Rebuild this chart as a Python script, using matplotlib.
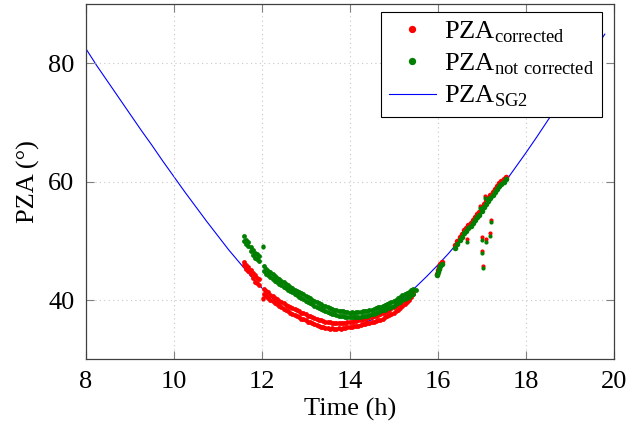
import matplotlib
matplotlib.use("Agg")
import matplotlib.pyplot as plt
import numpy as np

plt.rcParams['font.family'] = ['Liberation Serif', 'DejaVu Serif']
plt.rcParams['mathtext.fontset'] = 'custom'
plt.rcParams['mathtext.rm'] = 'Liberation Serif'

# SG2 reference curve
t_sg2 = [8.00, 8.25, 8.50, 8.75, 9.00, 9.25, 9.50, 9.75, 10.00, 10.25, 10.50, 10.75,
         11.00, 11.25, 11.50, 11.75, 12.00, 12.25, 12.50, 12.75, 13.00, 13.25, 13.50,
         13.75, 14.00, 14.25, 14.50, 14.75, 15.00, 15.25, 15.50, 15.75, 16.00, 16.25,
         16.50, 16.75, 17.00, 17.25, 17.50, 17.75, 18.00, 18.25, 18.50, 18.75, 19.00,
         19.25, 19.50, 19.80]
pza_sg2 = [82.5, 79.6, 76.9, 74.2, 71.5, 68.8, 66.2, 63.5, 60.9, 58.3, 55.8, 53.3,
           50.9, 48.5, 46.3, 44.1, 42.1, 40.3, 38.7, 37.4, 36.4, 35.7, 35.3,
           35.2, 35.4, 35.9, 36.7, 37.8, 39.1, 40.6, 42.2, 44.0, 45.9, 47.9,
           50.1, 52.4, 54.8, 57.2, 59.6, 62.2, 64.8, 67.5, 70.3, 73.0, 75.8,
           78.6, 81.5, 84.9]

# midday segment (upper and lower edge of each point band)
t_am = [11.60, 11.65, 11.70, 11.75, 11.80, 11.85, 11.90, 11.95, 12.05, 12.10, 12.15,
        12.20, 12.25, 12.30, 12.35, 12.40, 12.45, 12.50, 12.55, 12.60, 12.65, 12.70,
        12.75, 12.80, 12.85, 12.90, 12.95, 13.00, 13.05, 13.10, 13.15, 13.20, 13.25,
        13.30, 13.35, 13.40, 13.45, 13.50, 13.55, 13.60, 13.65, 13.70, 13.75, 13.80,
        13.85, 13.90, 13.95, 14.00, 14.05, 14.10, 14.15, 14.20, 14.25, 14.30, 14.35,
        14.40, 14.45, 14.50, 14.55, 14.60, 14.65, 14.70, 14.75, 14.80, 14.85, 14.90,
        14.95, 15.00, 15.05, 15.10, 15.15, 15.20, 15.25, 15.30, 15.35, 15.40, 15.45]
corr_am_hi = [46.5, 46.0, 45.6, 45.1, 44.6, 44.2, 43.8, 43.5, 41.9, 41.6, 41.3,
              40.9, 40.7, 40.4, 40.2, 39.9, 39.7, 39.5, 39.2, 39.0, 38.9, 38.7,
              38.5, 38.3, 38.1, 37.9, 37.8, 37.6, 37.4, 37.3, 37.1, 37.0, 36.8,
              36.7, 36.6, 36.5, 36.4, 36.3, 36.3, 36.2, 36.2, 36.1, 36.2, 36.1,
              36.2, 36.2, 36.3, 36.3, 36.4, 36.5, 36.5, 36.6, 36.7, 36.8, 36.9,
              37.0, 37.1, 37.2, 37.3, 37.4, 37.5, 37.6, 37.8, 38.0, 38.2, 38.4,
              38.6, 38.8, 39.0, 39.3, 39.5, 39.8, 40.1, 40.4, 40.8, 41.2, 41.6]
corr_am_lo = [45.9, 45.3, 44.9, 44.4, 43.7, 43.1, 42.9, 42.6, 41.0, 40.7, 40.4,
              40.1, 39.8, 39.5, 39.3, 39.0, 38.8, 38.5, 38.3, 38.1, 37.9, 37.7,
              37.5, 37.3, 37.1, 36.9, 36.8, 36.6, 36.4, 36.3, 36.1, 35.9, 35.8,
              35.6, 35.5, 35.4, 35.3, 35.3, 35.2, 35.3, 35.2, 35.2, 35.3, 35.2,
              35.3, 35.3, 35.4, 35.4, 35.5, 35.6, 35.6, 35.7, 35.8, 35.9, 36.0,
              36.1, 36.2, 36.3, 36.4, 36.5, 36.6, 36.7, 36.9, 37.1, 37.3, 37.5,
              37.7, 37.9, 38.2, 38.4, 38.7, 39.0, 39.3, 39.7, 40.1, 40.5, 41.0]
notc_am_hi = [50.8, 50.2, 49.8, 49.0, 48.5, 48.0, 47.8, 47.4, 45.7, 45.3, 45.0,
              44.7, 44.4, 44.1, 43.8, 43.5, 43.3, 43.0, 42.8, 42.5, 42.3, 42.1,
              41.8, 41.6, 41.4, 41.2, 41.0, 40.7, 40.5, 40.3, 40.1, 39.9, 39.7,
              39.5, 39.3, 39.1, 39.0, 38.8, 38.7, 38.5, 38.4, 38.3, 38.2, 38.1,
              38.1, 38.0, 38.0, 37.9, 38.0, 37.9, 38.0, 38.0, 38.0, 38.1, 38.1,
              38.2, 38.3, 38.4, 38.5, 38.7, 38.8, 38.9, 39.1, 39.2, 39.4, 39.5,
              39.7, 39.9, 40.1, 40.3, 40.5, 40.8, 41.0, 41.2, 41.4, 41.7, 41.9]
notc_am_lo = [50.0, 49.5, 49.1, 48.3, 47.7, 47.2, 47.0, 46.6, 44.9, 44.5, 44.2,
              43.9, 43.6, 43.3, 43.0, 42.7, 42.5, 42.2, 42.0, 41.7, 41.5, 41.3,
              41.0, 40.8, 40.6, 40.4, 40.2, 39.9, 39.7, 39.5, 39.3, 39.1, 38.9,
              38.7, 38.5, 38.3, 38.2, 38.0, 37.9, 37.7, 37.6, 37.5, 37.4, 37.3,
              37.3, 37.2, 37.2, 37.1, 37.2, 37.1, 37.2, 37.2, 37.2, 37.3, 37.3,
              37.4, 37.5, 37.6, 37.7, 37.9, 38.0, 38.1, 38.3, 38.4, 38.6, 38.7,
              38.9, 39.1, 39.3, 39.5, 39.7, 40.0, 40.2, 40.4, 40.6, 40.9, 41.1]

# afternoon segment
t_pm = [15.98, 16.00, 16.03, 16.06, 16.09, 16.40, 16.45, 16.50, 16.55, 16.60, 16.65,
        16.70, 16.75, 16.80, 16.85, 16.90, 16.95, 17.00, 17.05, 17.10, 17.15, 17.20,
        17.25, 17.30, 17.35, 17.40, 17.45, 17.50, 17.55]
notc_pm = [44.2, 44.8, 45.3, 45.8, 46.1, 48.8, 49.5, 50.2, 50.7, 51.3, 51.7,
           52.2, 52.6, 53.0, 53.5, 54.0, 54.4, 55.0, 55.8, 56.3, 56.8, 57.3,
           57.8, 58.3, 58.7, 59.2, 59.6, 60.0, 60.4]
corr_pm = [44.5, 45.1, 45.6, 46.1, 46.4, 49.3, 50.0, 50.7, 51.2, 51.8, 52.2,
           52.7, 53.1, 53.5, 54.0, 54.5, 54.9, 55.5, 56.3, 56.8, 57.3, 57.8,
           58.3, 58.8, 59.2, 59.7, 60.1, 60.5, 60.8]

# scattered outliers
t_out = [12.02, 12.04, 16.66, 16.97, 17.07, 17.21, 17.00, 17.11, 17.19, 17.00, 17.02]
notc_out = [49.1, 48.9, 49.9, 55.5, 57.2, 53.2, 50.2, 49.9, 50.9, 47.9, 45.4]
corr_out = [40.4, 40.2, 50.3, 55.9, 57.6, 53.6, 50.6, 50.3, 51.3, 48.3, 45.8]

fig = plt.figure(figsize=(6.3, 4.32), dpi=100)
ax = fig.add_axes([0.136, 0.168, 0.838, 0.823])

red = 'red'
green = '#007f00'
band = dict(linestyle='none', marker='o', markersize=3.5, markeredgewidth=0)
track = dict(linestyle='none', marker='o', markersize=4.0, markeredgewidth=0)
pts = dict(linestyle='none', marker='o', markersize=3.0, markeredgewidth=0)

ax.plot(t_sg2, pza_sg2, color='blue', linewidth=0.8, zorder=1,
        label=r'$\mathrm{PZA}_{\mathrm{SG2}}$')

ax.plot(t_am + t_am, corr_am_hi + corr_am_lo, color=red, zorder=2,
        label=r'$\mathrm{PZA}_{\mathrm{corrected}}$', **band)
ax.plot(t_pm, corr_pm, color=red, zorder=2, **track)
ax.plot(t_out, corr_out, color=red, zorder=2, **pts)
ax.plot(t_am + t_am + [15.50], notc_am_hi + notc_am_lo + [41.8], color=green, zorder=3,
        label=r'$\mathrm{PZA}_{\mathrm{not\ corrected}}$', **band)
ax.plot(t_pm, notc_pm, color=green, zorder=3, **track)
ax.plot(t_out, notc_out, color=green, zorder=3, **pts)

ax.set_xlim(8, 20)
ax.set_ylim(30, 90)
ax.set_xticks([8, 10, 12, 14, 16, 18, 20])
ax.set_yticks([40, 60, 80])
ax.grid(True, linestyle=(0, (1, 3)), color='#c8c8c8', linewidth=0.8)
ax.tick_params(direction='in', length=6, width=0.8, color='#808080',
               top=True, right=True, labelsize=19, pad=8)
for s in ax.spines.values():
    s.set_color('#404040')
    s.set_linewidth(0.9)

ax.set_xlabel('Time (h)', fontsize=19, labelpad=4)
ax.set_ylabel('PZA (°)', fontsize=19, labelpad=6)

h, l = ax.get_legend_handles_labels()
order = [1, 2, 0]
leg = ax.legend([h[i] for i in order], [l[i] for i in order],
                loc='upper right', bbox_to_anchor=(0.978, 0.978), borderaxespad=0,
                fontsize=19, markerscale=1.5, handlelength=1.8, handletextpad=0.3,
                labelspacing=0.25, borderpad=0.3, fancybox=False, framealpha=1)
leg.get_frame().set_edgecolor('black')
leg.get_frame().set_linewidth(0.8)

fig.savefig('out.png', dpi=100)
